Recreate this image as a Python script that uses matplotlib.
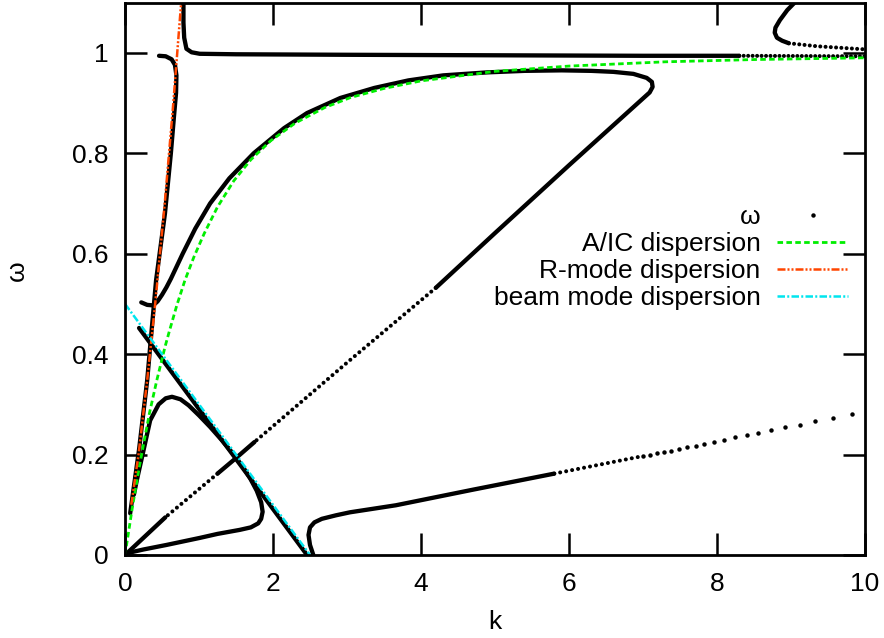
import matplotlib.pyplot as plt
from matplotlib.lines import Line2D

plt.rcParams['font.family'] = ['Liberation Sans', 'DejaVu Sans']
plt.rcParams['font.size'] = 19

# --- roots omega(k), read off the figure branch by branch ---
# branch that follows the R-mode line (hook at the top)
k_r = [0.46, 0.55, 0.63, 0.675, 0.695, 0.69, 0.66, 0.62, 0.54, 0.42, 0.30, 0.19, 0.07]
w_r = [0.994, 0.993, 0.987, 0.976, 0.955, 0.92, 0.87, 0.80, 0.68, 0.547, 0.348, 0.21, 0.083]

# branch that follows A/IC, turns at k~7.1 and runs back to the origin
k_a = [0.22, 0.30, 0.38, 0.44, 0.50, 0.56, 0.62, 0.70, 0.78, 0.95, 1.15, 1.41, 1.74, 2.15,
       2.46, 2.91, 3.37, 3.83, 4.30, 4.90, 5.40, 5.90, 6.30, 6.60, 6.87, 7.05, 7.12, 7.13,
       7.09, 6.0, 5.0, 4.2]
w_a = [0.503, 0.498, 0.497, 0.505, 0.518, 0.533, 0.55, 0.575, 0.60, 0.65, 0.70, 0.75, 0.80, 0.85,
       0.88, 0.91, 0.93, 0.945, 0.955, 0.961, 0.964, 0.965, 0.964, 0.962, 0.958, 0.950, 0.942, 0.932,
       0.921, 0.776, 0.641, 0.532]
k_diag1 = [4.2, 3.04, 1.75]       # sparse
w_diag1 = [0.532, 0.388, 0.225]
k_diag2 = [1.75, 1.5, 1.25]       # dense
w_diag2 = [0.225, 0.193, 0.162]
k_diag3 = [1.25, 0.545]           # sparse
w_diag3 = [0.162, 0.075]
k_diag4 = [0.545, 0.03]           # dense
w_diag4 = [0.075, 0.004]

# closed loop below the beam line
k_loop = [0.12, 0.16, 0.23, 0.34, 0.455, 0.55, 0.635, 0.75, 0.86, 1.0, 1.15, 1.30, 1.46, 1.60,
          1.69, 1.78, 1.84, 1.86, 1.84, 1.80, 1.70, 1.55, 1.25, 1.01, 0.56, 0.25, 0.04]
w_loop = [0.12, 0.149, 0.195, 0.268, 0.30, 0.312, 0.315, 0.31, 0.298, 0.278, 0.255, 0.23, 0.202, 0.174,
          0.153, 0.128, 0.105, 0.086, 0.072, 0.063, 0.055, 0.050, 0.042, 0.034, 0.02, 0.011, 0.004]

# branch on the beam line
k_bm = [0.19, 2.46]
w_bm = [0.452, 0.0]

# lower right branch
k_lr = [2.545, 2.50, 2.48, 2.50, 2.56, 2.66, 2.85, 3.04, 3.66, 4.70, 5.8]
w_lr = [0.0, 0.02, 0.04, 0.055, 0.065, 0.072, 0.079, 0.085, 0.099, 0.130, 0.162]
k_lr2 = [5.8, 7.0]
w_lr2 = [0.162, 0.197]
k_lr_dots = [7.00, 7.10, 7.19, 7.28, 7.38, 7.49, 7.60, 7.71, 7.83, 7.96,
             8.10, 8.24, 8.40, 8.56, 8.73, 8.92, 9.12, 9.33, 9.57, 9.82]
w_lr_dots = [0.197, 0.200, 0.203, 0.205, 0.208, 0.211, 0.215, 0.218, 0.221, 0.225,
             0.229, 0.234, 0.238, 0.243, 0.248, 0.254, 0.259, 0.266, 0.273, 0.280]

# upper branch near omega = 1
k_top = [0.79, 0.79, 0.80, 0.83, 0.90, 1.01, 1.5, 3.0, 5.0, 7.0, 8.3]
w_top = [1.10, 1.06, 1.03, 1.008, 1.001, 0.998, 0.997, 0.996, 0.995, 0.994, 0.994]
k_top2 = [8.3, 10.0]
w_top2 = [0.994, 0.993]

# top right branch
k_tr = [9.05, 8.95, 8.85, 8.79, 8.78, 8.81, 8.88, 8.97]
w_tr = [1.10, 1.085, 1.065, 1.05, 1.04, 1.03, 1.024, 1.019]
k_tr2 = [8.97, 9.35, 9.98]
w_tr2 = [1.019, 1.013, 1.007]

# --- dispersion curves ---
k_aic = [0, 0.10, 0.20, 0.33, 0.43, 0.54, 0.60, 0.70, 0.81, 0.93, 1.07, 1.25, 1.47, 1.70,
         1.97, 2.30, 2.70, 3.05, 3.50, 4.0, 5.0, 6.0, 7.3, 8.5, 10.0]
w_aic = [0, 0.095, 0.181, 0.282, 0.348, 0.414, 0.446, 0.497, 0.547, 0.593, 0.64, 0.693, 0.745, 0.787,
         0.825, 0.86, 0.891, 0.911, 0.929, 0.944, 0.963, 0.9735, 0.982, 0.9865, 0.990]
k_rm = [0.085, 0.183, 0.30, 0.408, 0.537, 0.653, 0.759]
w_rm = [0.10, 0.20, 0.348, 0.50, 0.70, 0.90, 1.10]
k_beam = [0.0, 2.5]
w_beam = [0.5, 0.0]

fig, ax = plt.subplots(figsize=(8.84, 6.38), dpi=100)
fig.subplots_adjust(left=0.1414, right=0.9785, bottom=0.1301, top=0.996)

dense = dict(color='black', lw=3.1, solid_capstyle='round', solid_joinstyle='round')
def sparse(gap):
    return dict(color='black', lw=2.9, ls=(0, (0.01, gap)), dash_capstyle='round')

for kk, ww in [(k_r, w_r), (k_a, w_a), (k_diag2, w_diag2), (k_diag4, w_diag4),
               (k_loop, w_loop), (k_bm, w_bm), (k_lr, w_lr), (k_top, w_top), (k_tr, w_tr)]:
    ax.plot(kk, ww, **dense)
ax.plot(k_diag1, w_diag1, **sparse(1.45))
ax.plot(k_diag3, w_diag3, **sparse(1.45))
ax.plot(k_lr2, w_lr2, **sparse(1.5))
ax.plot(k_top2, w_top2, **sparse(1.1))
ax.plot(k_tr2, w_tr2, **sparse(1.3))
ax.plot(k_lr_dots, w_lr_dots, 'o', color='black', ms=3.2, mew=0)

l_aic, = ax.plot(k_aic, w_aic, color='#00ee00', lw=2.0, ls=(0, (2.0, 1.2)))
l_rm, = ax.plot(k_rm, w_rm, color='#ff4500', lw=1.8, ls=(0, (3.2, 0.8, 0.8, 0.8, 0.8, 0.8)))
l_bm, = ax.plot(k_beam, w_beam, color='#00e5ee', lw=1.8, ls=(0, (3.0, 0.9, 0.8, 0.9)))

h_w = Line2D([], [], color='black', marker='o', ls='none', ms=3.2, mew=0)
ax.legend([h_w, l_aic, l_rm, l_bm],
          ['ω', 'A/IC dispersion', 'R-mode dispersion', 'beam mode dispersion'],
          loc='upper right', bbox_to_anchor=(0.9775, 0.634), frameon=False,
          markerfirst=False, numpoints=1, handlelength=2.7, handletextpad=0.62,
          labelspacing=0.115, borderpad=0, borderaxespad=0)

ax.set_xlim(0, 10)
ax.set_ylim(0, 1.1)
ax.set_xticks([0, 2, 4, 6, 8, 10])
ax.set_yticks([0, 0.2, 0.4, 0.6, 0.8, 1.0])
ax.set_yticklabels(['0', '0.2', '0.4', '0.6', '0.8', '1'])
ax.tick_params(direction='in', length=16, width=1.8, top=True, right=True, pad=12)
for s in ax.spines.values():
    s.set_linewidth(2.0)

ax.set_xlabel('k')
ax.set_ylabel('ω')
ax.xaxis.set_label_coords(0.5, -0.10)
ax.yaxis.set_label_coords(-0.13, 0.515)

fig.savefig('out.png', dpi=100)
